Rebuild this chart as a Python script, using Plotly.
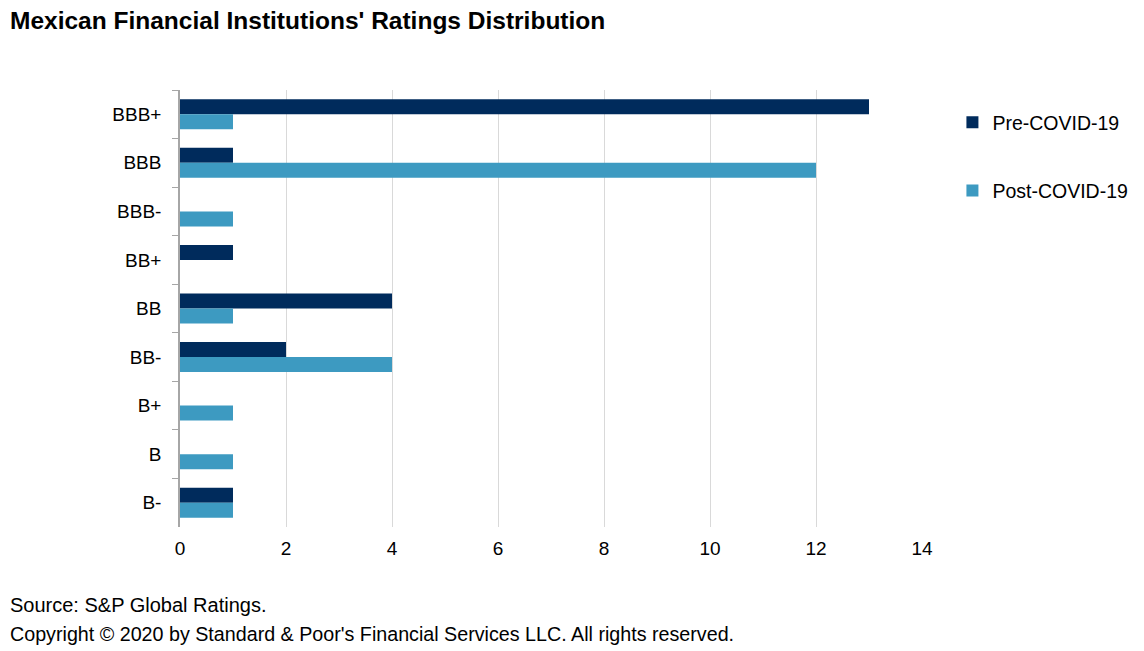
import plotly.graph_objects as go

categories = ["BBB+", "BBB", "BBB-", "BB+", "BB", "BB-", "B+", "B", "B-"]
pre_covid = [13, 1, 0, 1, 4, 2, 0, 0, 1]
post_covid = [1, 12, 1, 0, 1, 4, 1, 1, 1]
x_ticks = [0, 2, 4, 6, 8, 10, 12, 14]

FONT = "Liberation Sans, Arial, sans-serif"

fig = go.Figure()
fig.add_trace(go.Bar(y=categories, x=pre_covid, orientation="h", name="Pre-COVID-19",
                     marker_color="#002B5C", marker_line_width=0, legendgroup="a"))
fig.add_trace(go.Bar(y=categories, x=post_covid, orientation="h", name="Post-COVID-19",
                     marker_color="#3D9AC1", marker_line_width=0, legendgroup="b"))

fig.update_layout(
    width=1144, height=651,
    paper_bgcolor="white", plot_bgcolor="white",
    font=dict(family=FONT, size=19, color="black"),
    margin=dict(l=172, r=230, t=82, b=132),
    barmode="group", bargap=0.382, bargroupgap=0,
    title=dict(text="<b>Mexican Financial Institutions' Ratings Distribution</b>",
               x=2/1144, xref="container", xanchor="left", y=1-12/651, yref="container",
               yanchor="middle",
               font=dict(family=FONT, size=24.5, color="black")),
    legend=dict(x=1.041, y=0.9703, xanchor="left", yanchor="top",
                tracegroupgap=40, font=dict(size=19.5), itemwidth=30,
                bgcolor="rgba(0,0,0,0)"),
    xaxis=dict(range=[0, 14], tickvals=x_ticks, showgrid=True, gridcolor="#D9D9D9",
               gridwidth=1, zeroline=False, showline=False, ticks="",
               ticklabelstandoff=8, tickfont=dict(size=19)),
    yaxis=dict(categoryorder="array", categoryarray=categories, autorange="reversed",
               showline=True, linecolor="#A6A6A6", linewidth=1.5,
               ticks="outside", tickson="boundaries", ticklen=6, tickcolor="#A6A6A6",
               showgrid=False, ticklabelstandoff=13, tickfont=dict(size=19)),
)

fig.add_annotation(text="Source: S&P Global Ratings.", xref="paper", yref="paper",
                   x=-0.2318, y=-0.1785, xanchor="left", yanchor="middle", showarrow=False,
                   font=dict(family=FONT, size=20, color="black"), align="left")
fig.add_annotation(text="Copyright © 2020 by Standard & Poor's Financial Services LLC. All rights reserved.",
                   xref="paper", yref="paper",
                   x=-0.2318, y=-0.2449, xanchor="left", yanchor="middle", showarrow=False,
                   font=dict(family=FONT, size=19.7, color="black"), align="left")

fig.write_html("out.html")
